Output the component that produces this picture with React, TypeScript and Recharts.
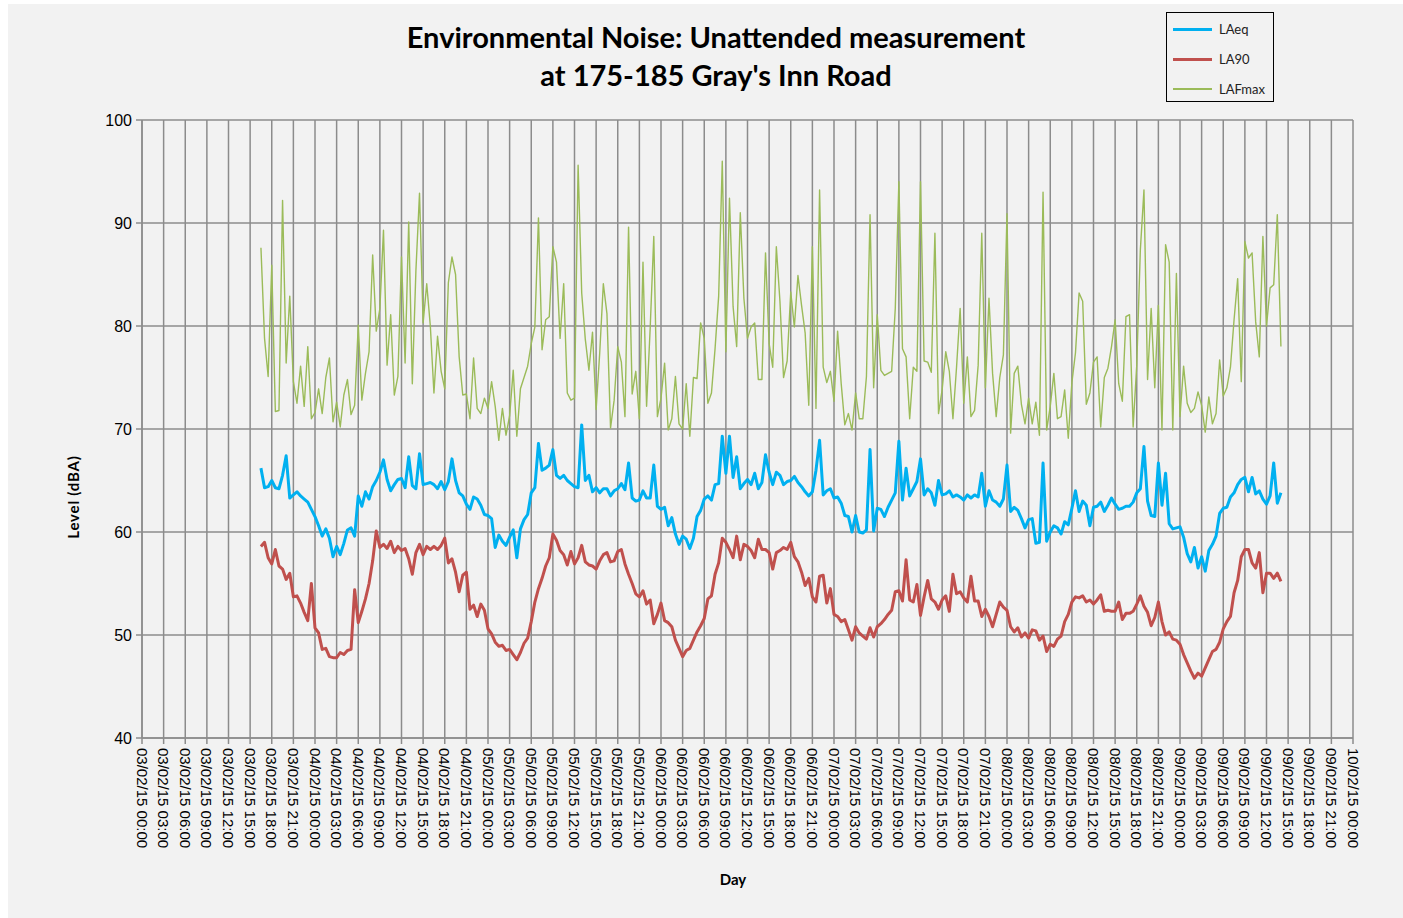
import React from 'react';
import { LineChart, Line, XAxis, YAxis, CartesianGrid } from 'recharts';

// half-hourly readings, first one at 03/02/15 16:30
const START_HOUR = 16.5;
const STEP_HOURS = 0.5;

const laeq = [
  66.2, 64.3, 64.4, 65.0, 64.3, 64.2, 65.5, 67.4, 63.3, 63.6, 63.9, 63.5, 63.2, 62.9, 62.2, 61.5, 60.6, 59.6, 60.3, 59.4,
  57.6, 58.6, 57.8, 58.9, 60.2, 60.4, 59.6, 63.5, 62.5, 63.9, 63.2, 64.4, 65.0, 65.8, 67.0, 65.1, 64.0, 64.6, 65.1, 65.2,
  64.3, 67.3, 64.5, 64.2, 67.6, 64.6, 64.7,
  64.8, 64.6, 64.2, 64.9, 64.1, 64.9, 67.1, 65.0, 63.8, 63.5, 62.7, 62.2, 63.4, 63.2, 62.6, 61.7, 61.6, 61.3, 58.5, 59.7,
  59.1, 58.7, 59.5, 60.2, 57.5, 60.3, 61.2, 61.7, 63.8, 64.3, 68.6, 66.0, 66.2, 66.5, 68.0, 65.5, 65.2, 65.5, 65.0, 64.7,
  64.4, 64.3, 70.4, 65.0, 65.5, 63.9, 64.3, 63.8, 64.2,
  64.2, 63.5, 64.0, 64.2, 64.7, 64.1, 66.7, 63.3, 63.0, 63.1, 64.0, 63.3, 63.3, 66.5, 62.5, 62.2, 62.4, 60.6, 61.4, 59.8,
  58.8, 59.6, 59.3, 58.4, 59.4, 61.5, 62.1, 63.2, 63.5, 63.1, 64.6, 64.7, 69.3, 65.7, 69.3, 65.3, 67.3, 64.2, 64.7, 65.1,
  64.6, 65.7, 64.2, 64.8, 67.5, 65.8, 64.6, 65.8,
  65.5, 64.6, 64.9, 65.0, 65.4, 64.8, 64.4, 63.9, 63.5, 63.9, 66.0, 68.9, 63.6, 64.0, 64.2, 63.3, 63.4, 62.8, 61.6, 61.5,
  60.0, 61.6, 60.0, 59.9, 60.2, 68.0, 60.1, 62.3, 62.2, 61.5, 62.4, 63.1, 63.8, 68.8, 63.1, 66.2, 63.5, 64.2, 64.9, 67.1,
  63.6, 64.2, 63.8, 62.6, 65.0, 63.6, 63.7, 64.0, 63.4,
  63.6, 63.4, 63.1, 63.6, 63.3, 63.6, 63.4, 65.7, 62.5, 64.0, 63.1, 62.9, 62.5, 63.2, 66.5, 62.0, 62.4, 62.1, 61.3, 60.4,
  61.2, 61.3, 58.9, 59.0, 66.7, 59.1, 60.0, 60.6, 60.4, 59.8, 61.0, 60.7, 62.3, 64.0, 62.0, 63.0, 62.6, 60.6, 62.4, 62.5,
  62.9, 62.0, 62.6, 63.3, 62.7, 62.2, 62.3, 62.5,
  62.5, 62.9, 63.8, 64.2, 68.3, 63.0, 61.6, 61.5, 66.7, 62.6, 65.7, 60.8, 60.3, 60.4, 60.5, 59.5, 57.9, 57.1, 58.5, 56.5,
  57.6, 56.2, 58.2, 58.8, 59.6, 61.8, 62.3, 62.4, 63.4, 63.8, 64.6, 65.1, 65.3, 63.9, 65.3, 63.7, 64.0, 63.2, 62.7, 63.5,
  66.7, 62.8, 63.8,
];

const la90 = [
  58.6, 59.0, 57.5, 56.9, 58.3, 56.7, 56.4, 55.4, 56.0, 53.7, 53.8, 53.1, 52.2, 51.4, 55.0, 50.7, 50.2, 48.6, 48.7, 47.9,
  47.8, 47.8, 48.3, 48.1, 48.5, 48.6, 54.4, 51.2, 52.3, 53.5, 55.0, 57.2, 60.1, 58.5, 58.8, 58.4, 59.1, 58.0, 58.6, 58.2,
  58.4, 57.4, 55.9, 58.0, 58.8, 57.8, 58.6,
  58.3, 58.6, 58.3, 58.7, 59.4, 57.0, 57.4, 56.1, 54.2, 55.8, 56.1, 52.5, 52.9, 51.8, 53.0, 52.4, 50.6, 50.1, 49.3, 48.9,
  49.0, 48.5, 48.6, 48.1, 47.6, 48.3, 49.2, 49.7, 51.3, 53.2, 54.5, 55.5, 56.7, 57.5, 59.8, 59.2, 58.2, 57.8, 56.8, 58.1,
  56.9, 57.5, 58.7, 57.1, 56.8, 56.7, 56.4, 57.2, 57.8,
  58.0, 57.1, 57.2, 58.1, 58.3, 56.9, 55.9, 55.0, 54.0, 53.7, 54.3, 53.0, 53.4, 51.1, 52.0, 53.1, 51.4, 51.2, 50.8, 49.5,
  48.7, 47.9, 48.5, 48.7, 49.5, 50.3, 50.9, 51.6, 53.5, 53.8, 55.9, 57.0, 59.4, 59.0, 58.3, 57.5, 59.6, 57.3, 58.8, 58.6,
  58.2, 57.5, 59.3, 58.3, 58.3, 58.0, 56.4, 58.0,
  58.2, 58.5, 58.3, 59.0, 57.6, 57.1, 56.1, 54.8, 55.5, 53.7, 53.2, 55.7, 55.8, 53.1, 54.5, 52.0, 51.8, 51.3, 51.5, 50.5,
  49.5, 50.8, 50.2, 49.9, 49.6, 50.7, 49.8, 50.8, 51.1, 51.5, 52.0, 52.4, 54.2, 54.3, 53.3, 57.3, 53.4, 53.2, 54.9, 51.9,
  53.7, 55.3, 53.5, 53.2, 52.5, 53.4, 53.8, 52.3, 55.9,
  54.0, 54.2, 53.6, 53.2, 55.7, 53.3, 53.3, 51.8, 52.5, 51.8, 50.8, 52.0, 53.2, 52.7, 52.4, 50.8, 50.3, 50.7, 49.8, 50.2,
  49.7, 50.5, 50.4, 49.5, 49.9, 48.4, 49.1, 48.9, 49.6, 49.9, 51.3, 52.0, 53.2, 53.7, 53.6, 53.8, 53.2, 53.4, 53.0, 53.4,
  53.9, 52.3, 52.4, 52.3, 52.3, 53.2, 51.5, 52.1,
  52.1, 52.3, 53.0, 53.8, 52.8, 52.2, 50.9, 51.7, 53.2, 51.3, 50.0, 50.3, 49.6, 49.5, 49.1, 48.1, 47.3, 46.5, 45.8, 46.3,
  46.0, 46.8, 47.6, 48.4, 48.6, 49.3, 50.6, 51.3, 51.8, 54.1, 55.3, 57.6, 58.3, 58.3, 57.0, 56.5, 58.0, 54.1, 56.0, 56.0,
  55.5, 56.0, 55.2,
];

const lafmax = [
  87.6, 78.8, 75.1, 85.9, 71.7, 71.8, 92.2, 76.4, 82.9, 74.6, 72.5, 76.1, 72.2, 78.0, 71.0, 71.6, 73.9, 71.5, 75.0, 76.9,
  70.7, 72.6, 70.2, 73.3, 74.8, 71.4, 72.3, 80.1, 72.8, 75.4, 77.5, 86.9, 79.5, 81.7, 89.3, 76.2, 81.1, 73.3, 75.1, 86.7,
  76.4, 90.1, 74.4, 85.4, 92.9, 80.3, 84.1,
  80.0, 73.5, 79.0, 75.6, 73.9, 84.2, 86.7, 85.0, 77.0, 73.3, 73.4, 71.0, 76.9, 72.0, 71.5, 73.0, 72.0, 74.6, 72.2, 68.9,
  72.0, 69.4, 71.3, 75.7, 69.3, 73.9, 75.0, 76.1, 78.3, 79.9, 90.5, 77.7, 80.6, 80.9, 87.7, 86.2, 78.8, 84.1, 73.5, 72.8,
  73.0, 95.6, 83.2, 78.7, 75.7, 79.4, 71.9, 77.4, 84.1,
  81.2, 70.1, 72.8, 78.0, 76.5, 71.2, 89.6, 73.4, 75.6, 71.0, 86.2, 72.2, 79.8, 88.7, 71.2, 73.0, 76.4, 69.9, 71.0, 75.1,
  70.5, 70.0, 74.4, 69.3, 75.0, 74.9, 80.3, 78.8, 72.5, 73.5, 77.8, 82.9, 96.0, 77.5, 92.4, 81.9, 78.0, 91.0, 82.7, 78.8,
  79.9, 80.3, 74.8, 74.8, 87.1, 78.3, 76.0, 87.7,
  82.4, 75.0, 76.6, 83.3, 79.9, 84.9, 82.0, 79.3, 72.3, 87.7, 72.0, 93.2, 76.0, 74.5, 75.6, 72.7, 79.5, 74.4, 70.4, 71.5,
  69.9, 73.5, 71.0, 71.0, 75.1, 90.8, 74.0, 81.1, 75.7, 75.2, 75.4, 75.6, 81.7, 94.0, 77.8, 77.0, 71.0, 76.0, 75.6, 94.0,
  76.6, 76.5, 75.5, 89.0, 71.5, 73.8, 77.5, 75.6, 71.0,
  76.0, 81.7, 72.5, 77.0, 71.2, 71.8, 76.2, 89.0, 74.0, 82.7, 75.4, 71.2, 75.0, 77.2, 90.9, 69.6, 75.4, 76.1, 72.4, 70.5,
  73.0, 70.5, 72.6, 69.4, 93.0, 69.9, 72.2, 75.4, 71.0, 71.2, 73.8, 69.1, 74.5, 77.4, 83.2, 82.4, 72.4, 73.5, 76.5, 77.0,
  70.2, 75.0, 75.9, 78.0, 80.6, 74.4, 72.7, 80.9,
  81.1, 70.2, 76.2, 87.4, 93.2, 74.8, 81.7, 74.0, 82.0, 69.9, 87.9, 86.2, 69.9, 85.1, 71.2, 76.1, 72.5, 71.6, 72.0, 73.6,
  72.3, 69.7, 73.1, 70.5, 71.5, 76.7, 73.2, 74.0, 76.0, 80.6, 84.6, 74.6, 88.2, 86.6, 87.1, 80.4, 77.0, 88.7, 80.0, 83.7,
  84.0, 90.8, 78.0,
];

const seriesInfo = [
  { key: 'laeq', name: 'LAeq', color: '#00b0f0', width: 3 },
  { key: 'la90', name: 'LA90', color: '#c0504d', width: 3 },
  { key: 'lafmax', name: 'LAFmax', color: '#9bbb59', width: 1.4 },
];

const yTicks = [40, 50, 60, 70, 80, 90, 100];

// x axis is hours since 03/02/15 00:00, a tick every 3 hours up to 10/02/15 00:00
const xTicks: number[] = [];
for (let h = 0; h <= 168; h += 3) xTicks.push(h);

const data = laeq.map((v, i) => ({
  t: START_HOUR + i * STEP_HOURS,
  laeq: v,
  la90: la90[i],
  lafmax: lafmax[i],
}));

const pad = (n: number) => String(n).padStart(2, '0');
const fmtTime = (h: number) => `${pad(3 + Math.floor(h / 24))}/02/15 ${pad(h % 24)}:00`;

const axisFont = "'Liberation Sans', Arial, sans-serif";
const labelFont = "Lato, 'Open Sans', sans-serif";

const DayTick = (props: any) => {
  const { x, y, payload } = props;
  return (
    <text
      x={x}
      y={y}
      dy="0.36em"
      textAnchor="start"
      transform={`rotate(90, ${x}, ${y})`}
      fontSize={15}
      fontFamily={axisFont}
      fill="#000"
    >
      {fmtTime(payload.value)}
    </text>
  );
};

const LegendBox = () => (
  <div
    style={{
      position: 'absolute',
      left: 1158,
      top: 8,
      width: 106,
      height: 88,
      border: '1px solid #000',
      fontFamily: labelFont,
      fontSize: 13,
      color: '#222',
    }}
  >
    {seriesInfo.map((s, i) => (
      <div
        key={s.key}
        style={{ position: 'absolute', left: 6, top: 8 + i * 30, height: 16, display: 'flex', alignItems: 'center' }}
      >
        <div style={{ width: 39, height: s.key === 'lafmax' ? 1.5 : 3, background: s.color }} />
        <span style={{ marginLeft: 7 }}>{s.name}</span>
      </div>
    ))}
  </div>
);

export default function App() {
  return (
    <div style={{ position: 'absolute', left: 8, top: 4, width: 1395, height: 914, background: '#f2f2f2' }}>
      <LineChart width={1395} height={914} data={data} margin={{ top: 116, right: 50, bottom: 0, left: 0 }}>
        <CartesianGrid stroke="#8c8c8c" strokeWidth={1.5} />
        <XAxis
          dataKey="t"
          type="number"
          domain={[0, 168]}
          ticks={xTicks}
          interval={0}
          height={180}
          tickSize={6}
          tickMargin={4}
          tick={<DayTick />}
          stroke="#8c8c8c"
          strokeWidth={1.5}
        />
        <YAxis
          type="number"
          domain={[40, 100]}
          ticks={yTicks}
          interval={0}
          width={134}
          tickSize={6}
          tickMargin={4}
          tick={{ fontSize: 16, fill: '#000', fontFamily: axisFont }}
          stroke="#8c8c8c"
          strokeWidth={1.5}
        />
        {seriesInfo.map((s) => (
          <Line
            key={s.key}
            type="linear"
            dataKey={s.key}
            name={s.name}
            stroke={s.color}
            strokeWidth={s.width}
            strokeLinejoin="round"
            dot={false}
            activeDot={false}
            isAnimationActive={false}
          />
        ))}
      </LineChart>
      <div
        style={{
          position: 'absolute',
          left: 0,
          top: 14,
          width: 1416,
          textAlign: 'center',
          fontFamily: labelFont,
          fontWeight: 700,
          fontSize: 29,
          lineHeight: '38px',
          color: '#000',
        }}
      >
        Environmental Noise: Unattended measurement
        <br />
        at 175-185 Gray's Inn Road
      </div>
      <div
        style={{
          position: 'absolute',
          left: 65,
          top: 493,
          transform: 'translate(-50%, -50%) rotate(-90deg)',
          fontFamily: labelFont,
          fontWeight: 700,
          fontSize: 15,
          letterSpacing: 0.8,
          whiteSpace: 'nowrap',
        }}
      >
        Level (dBA)
      </div>
      <div
        style={{
          position: 'absolute',
          left: 725,
          top: 875,
          transform: 'translate(-50%, -50%)',
          fontFamily: labelFont,
          fontWeight: 700,
          fontSize: 15,
        }}
      >
        Day
      </div>
      <LegendBox />
    </div>
  );
}
